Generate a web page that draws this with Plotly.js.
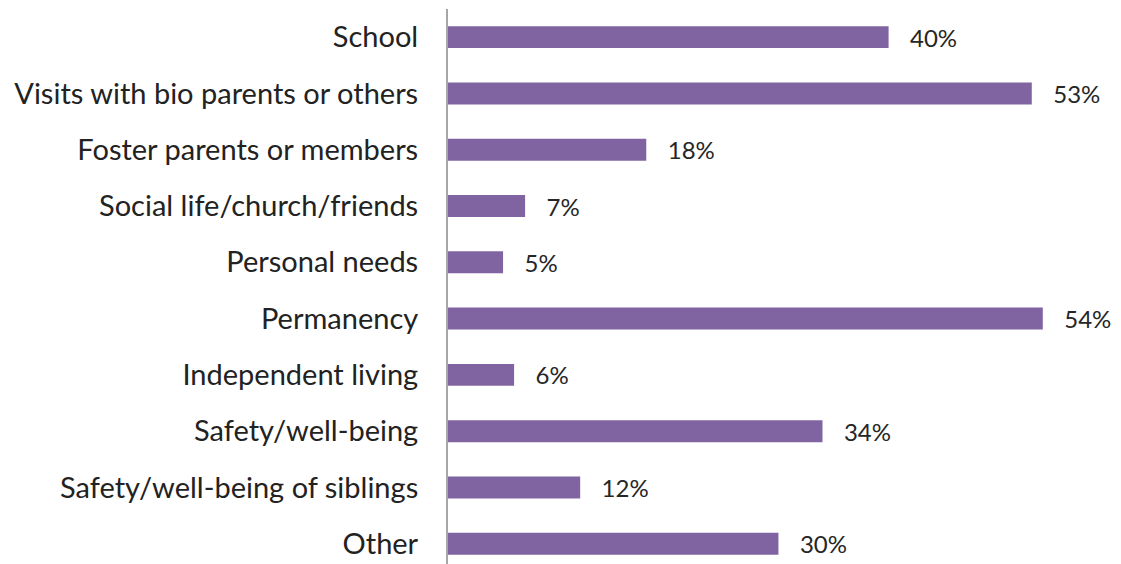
<!DOCTYPE html>
<html><head><meta charset="utf-8">
<script src="https://cdn.plot.ly/plotly-3.0.1.min.js"></script>
<style>html,body{margin:0;padding:0;background:#fff}#chart{width:1121px;height:564px}</style>
</head><body><div id="chart"></div>
<script>
const categories = ["School","Visits with bio parents or others","Foster parents or members","Social life/church/friends","Personal needs","Permanency","Independent living","Safety/well-being","Safety/well-being of siblings","Other"];
const values = [40,53,18,7,5,54,6,34,12,30];
const labels = values.map(v => v + "%");

const trace = {
  type: "bar", orientation: "h",
  y: categories, x: values,
  marker: {color: "#8064A2"},
  text: labels, texttemplate: "   %{text}", textposition: "outside", cliponaxis: false,
  constraintext: "none",
  textfont: {family: "Lato, 'Open Sans', sans-serif", size: 24, color: "#262626"},
  hoverinfo: "none"
};
const layout = {
  width: 1121, height: 564,
  margin: {l: 448, r: 0, t: 9, b: 0},
  paper_bgcolor: "#fff", plot_bgcolor: "#fff",
  bargap: 0.61,
  showlegend: false,
  xaxis: {range: [0, 61.1], showgrid: false, zeroline: false, showticklabels: false, showline: false, ticks: ""},
  yaxis: {type: "category", range: [9.36, -0.5], showgrid: false, zeroline: false,
          showline: true, linecolor: "#a6a6a6", linewidth: 2, ticks: "",
          ticklabelstandoff: 22,
          tickfont: {family: "Lato, 'Open Sans', sans-serif", size: 29, color: "#222222"}},
  font: {family: "Lato, sans-serif"}
};
Plotly.newPlot("chart", [trace], layout, {staticPlot: true, displayModeBar: false});
</script></body></html>
